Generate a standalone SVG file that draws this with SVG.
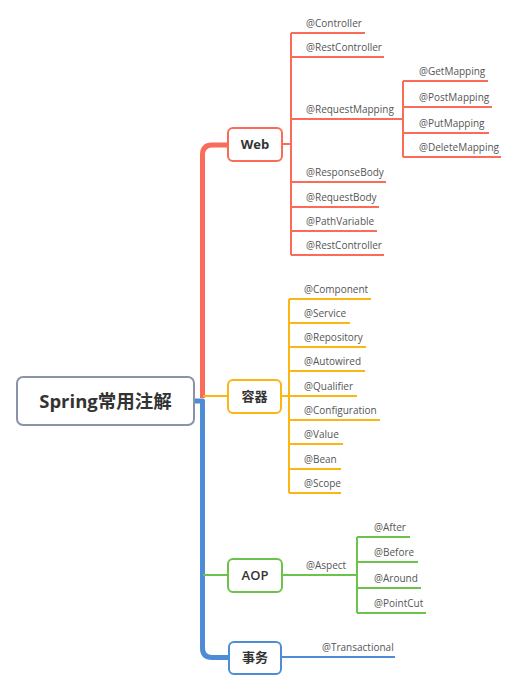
<svg xmlns="http://www.w3.org/2000/svg" width="505" height="676" viewBox="0 0 505 676">
<style>
.t{font-family:"Open Sans","Noto Sans CJK SC",sans-serif;font-size:10px;fill:#555}
.n{font-family:"Open Sans","Noto Sans CJK SC",sans-serif;font-size:13px;font-weight:bold;fill:#333;text-anchor:middle}
.r{stroke:#fa6b5a}.o{stroke:#fbb515}.g{stroke:#6cc24a}.b{stroke:#4f8cd6}
.l{fill:none;stroke-width:2}
.k{fill:none;stroke-width:5;stroke-linejoin:round}
.box{fill:#fff;stroke-width:2}
</style>
<g id="connectors">
<path class="k r" d="M228,145 H212 Q202.5,145 202.5,155 V398"/>
<path class="k b" d="M194,401 H202.5 V648 Q202.5,657.5 212,657.5 H229"/>
<path class="l o" d="M203,396 H228"/>
<path class="l g" d="M203,575 H228"/>
<path class="l r" d="M282,144 H291 M291,33 V255 M291,33 H365 M291,57 H384 M291,119 H403 M291,182 H386 M291,207 H379 M291,231 H377 M291,255 H384"/>
<path class="l r" d="M403,81 V157 M403,81 H488 M403,107 H492 M403,133 H489 M403,157 H501"/>
<path class="l o" d="M281,396 H289 M289,299 V493 M289,299 H371 M289,323 H350 M289,347 H366 M289,371 H365 M289,396 H357 M289,420 H380 M289,444 H343 M289,469 H341 M289,493 H341"/>
<path class="l g" d="M282,575 H357 M357,537 V613 M357,537 H410 M357,562 H418 M357,588 H421 M357,613 H426"/>
<path class="l b" d="M281,657 H395"/>
</g>
<g id="root">
<rect x="17" y="377" width="177" height="48" rx="6" fill="#fff" stroke="#8a93a8" stroke-width="2"/>
<text x="105.5" y="407.5" class="n" style="font-size:18.5px">Spring常用注解</text>
</g>
<g id="web">
<rect class="box r" x="228" y="128" width="54" height="33" rx="5"/>
<text class="n" x="255" y="149">Web</text>
</g>
<g id="container">
<rect class="box o" x="228" y="380" width="53" height="33" rx="5"/>
<text class="n" x="254.5" y="401">容器</text>
</g>
<g id="aop">
<rect class="box g" x="228" y="559" width="54" height="33" rx="5"/>
<text class="n" x="255" y="580" style="font-weight:600">AOP</text>
</g>
<g id="tx">
<rect class="box b" x="229" y="642" width="52" height="32" rx="5"/>
<text class="n" x="255" y="662">事务</text>
</g>
<g id="web-children">
<text class="t" x="306" y="27">@Controller</text>
<text class="t" x="306" y="51">@RestController</text>
<text class="t" x="306" y="113">@RequestMapping</text>
<text class="t" x="419" y="75">@GetMapping</text>
<text class="t" x="419" y="101">@PostMapping</text>
<text class="t" x="419" y="127">@PutMapping</text>
<text class="t" x="419" y="151">@DeleteMapping</text>
<text class="t" x="306" y="176">@ResponseBody</text>
<text class="t" x="306" y="201">@RequestBody</text>
<text class="t" x="306" y="225">@PathVariable</text>
<text class="t" x="306" y="249">@RestController</text>
</g>
<g id="container-children">
<text class="t" x="304" y="293">@Component</text>
<text class="t" x="304" y="317">@Service</text>
<text class="t" x="304" y="341">@Repository</text>
<text class="t" x="304" y="365">@Autowired</text>
<text class="t" x="304" y="390">@Qualifier</text>
<text class="t" x="304" y="414">@Configuration</text>
<text class="t" x="304" y="438">@Value</text>
<text class="t" x="304" y="463">@Bean</text>
<text class="t" x="304" y="487">@Scope</text>
</g>
<g id="aop-children">
<text class="t" x="306" y="569">@Aspect</text>
<text class="t" x="374" y="531">@After</text>
<text class="t" x="374" y="556">@Before</text>
<text class="t" x="374" y="582">@Around</text>
<text class="t" x="374" y="607">@PointCut</text>
</g>
<g id="tx-children">
<text class="t" x="322" y="651">@Transactional</text>
</g>
</svg>
